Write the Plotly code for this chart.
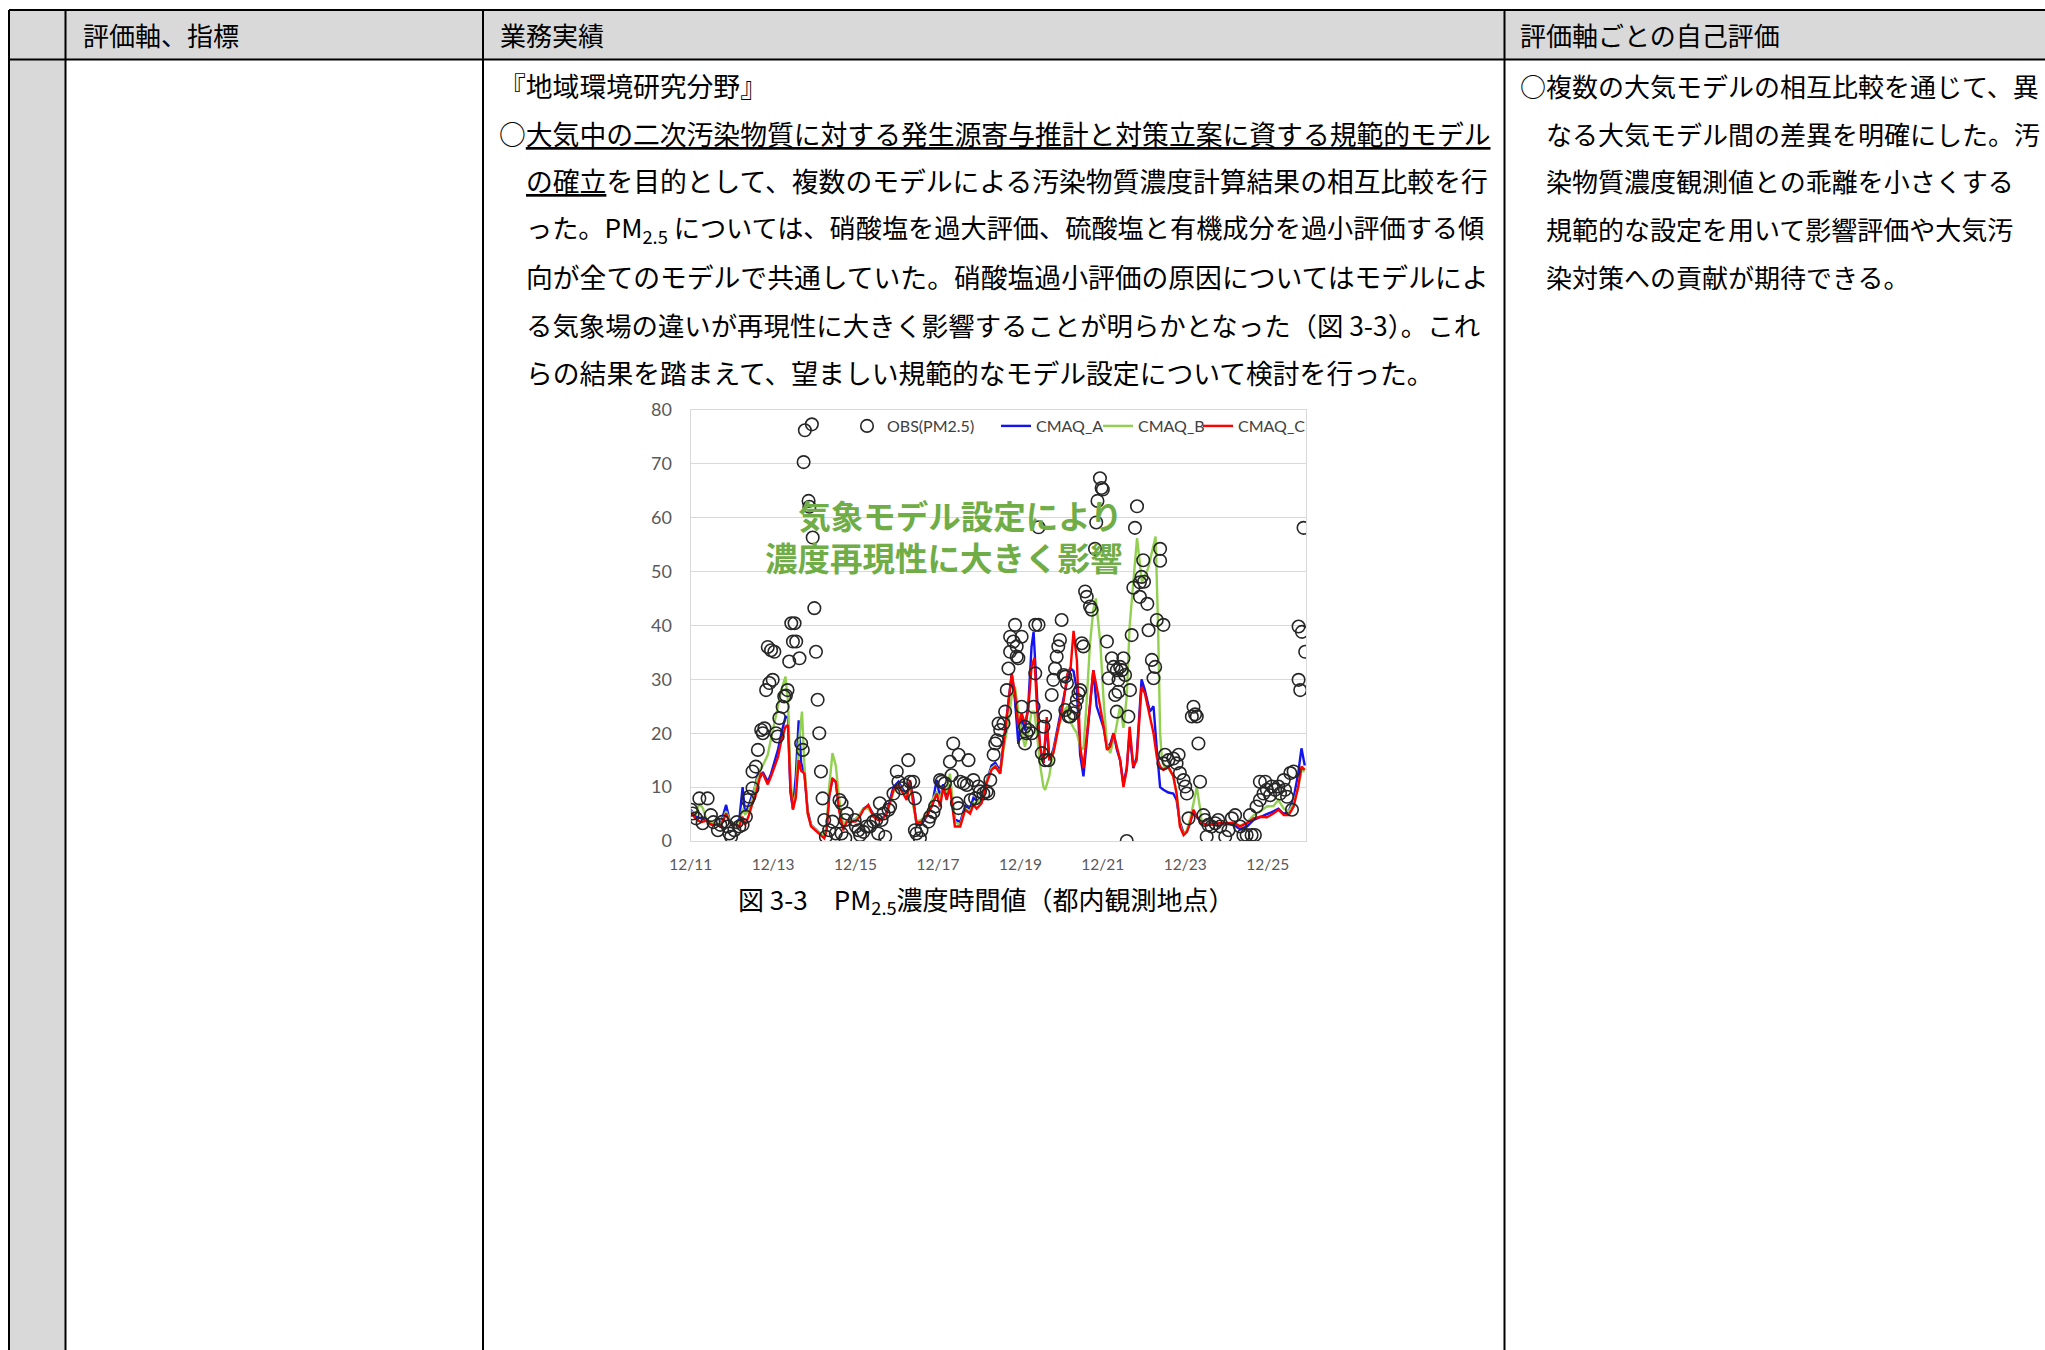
import plotly.graph_objects as go

W, H = 2045, 1350

# ---------------- data (days since 12/11 00:00) ----------------
tick_days = [0, 2, 4, 6, 8, 10, 12, 14]
tick_labels = ["12/11", "12/13", "12/15", "12/17", "12/19", "12/21", "12/23", "12/25"]
y_ticks = [0, 10, 20, 30, 40, 50, 60, 70, 80]

cmaq_c_t = [0.00,0.13,0.25,0.38,0.50,0.62,0.72,0.86,0.95,1.05,1.18,1.25,1.32,1.40,1.50,1.56,1.63,1.70,1.75,1.87,1.95,2.03,2.12,2.20,2.30,2.36,2.42,2.48,2.55,2.62,2.68,2.76,2.84,2.92,3.05,3.12,3.24,3.30,3.36,3.44,3.52,3.60,3.70,3.79,4.00,4.10,4.19,4.31,4.43,4.55,4.64,4.76,4.92,5.04,5.16,5.24,5.32,5.40,5.48,5.60,5.72,5.85,5.97,6.05,6.13,6.21,6.29,6.41,6.54,6.66,6.78,6.86,6.94,7.06,7.18,7.30,7.39,7.51,7.59,7.71,7.79,7.87,7.95,8.03,8.11,8.19,8.27,8.34,8.40,8.48,8.56,8.64,8.70,8.80,8.93,9.05,9.14,9.22,9.29,9.37,9.45,9.53,9.65,9.77,9.85,9.94,10.02,10.10,10.18,10.26,10.34,10.42,10.50,10.58,10.65,10.74,10.82,10.94,11.02,11.14,11.23,11.31,11.39,11.47,11.59,11.71,11.79,11.87,11.96,12.04,12.12,12.20,12.28,12.40,12.56,12.77,12.97,13.17,13.33,13.50,13.66,13.82,13.98,14.14,14.26,14.39,14.51,14.63,14.74,14.82,14.90]
cmaq_c_v = [5.4,4.0,3.5,3.8,3.0,3.0,2.7,5.1,3.3,3.0,2.7,4.5,3.0,4.5,7.0,8.0,10.0,12.5,12.5,10.5,12.0,13.8,15.6,18.7,21.2,21.5,10.0,5.8,8.0,15.0,13.0,12.5,5.1,2.7,1.8,1.4,0.5,2.0,8.2,11.6,11.0,5.7,2.0,3.6,3.6,4.5,5.8,6.7,4.5,3.9,3.9,5.1,9.5,10.4,8.8,7.6,11.3,7.0,3.3,3.6,4.5,6.4,8.8,6.4,10.0,7.6,10.0,2.7,2.7,5.8,5.1,6.7,6.0,7.0,10.7,13.2,13.8,12.5,17.5,25.5,31.0,27.4,21.2,23.7,21.8,24.3,32.3,34.0,25.0,17.5,14.5,23.0,15.0,16.3,21.2,26.0,31.0,32.3,39.0,33.6,17.5,13.5,22.4,31.7,28.6,25.0,21.2,16.9,17.5,20.0,17.5,15.0,10.0,13.2,21.2,13.8,15.0,28.6,27.4,23.0,20.0,15.6,13.8,13.2,13.8,12.0,8.8,2.7,1.1,1.7,3.3,5.8,4.5,3.3,3.0,3.3,3.3,3.3,2.7,3.3,4.2,4.5,4.4,5.1,5.8,4.8,4.8,6.4,10.0,13.8,13.2]

cmaq_a_t = [0.00,0.13,0.25,0.38,0.50,0.62,0.72,0.86,0.95,1.05,1.18,1.26,1.32,1.40,1.50,1.56,1.63,1.70,1.75,1.87,1.95,2.03,2.12,2.20,2.30,2.36,2.42,2.48,2.55,2.62,2.68,2.76,2.84,2.92,3.05,3.12,3.24,3.30,3.36,3.44,3.52,3.60,3.70,3.79,4.00,4.10,4.19,4.31,4.43,4.55,4.64,4.76,4.92,5.04,5.16,5.24,5.32,5.40,5.48,5.60,5.72,5.85,5.97,6.05,6.13,6.21,6.29,6.41,6.54,6.66,6.78,6.86,6.94,7.06,7.18,7.30,7.39,7.51,7.59,7.71,7.79,7.87,7.95,8.03,8.11,8.19,8.27,8.32,8.40,8.48,8.56,8.64,8.70,8.80,8.93,9.05,9.14,9.22,9.29,9.37,9.45,9.53,9.65,9.77,9.85,9.94,10.02,10.10,10.18,10.26,10.34,10.42,10.50,10.58,10.65,10.74,10.82,10.94,11.02,11.14,11.23,11.31,11.39,11.47,11.59,11.71,11.79,11.87,11.96,12.04,12.12,12.20,12.28,12.40,12.56,12.77,12.97,13.17,13.33,13.50,13.66,13.82,13.98,14.14,14.26,14.39,14.51,14.63,14.74,14.82,14.90]
cmaq_a_v = [5.8,4.5,4.2,4.0,3.3,3.2,3.0,6.7,3.6,3.2,4.0,10.0,5.0,6.5,8.5,10.0,12.5,12.0,12.8,11.0,12.5,14.5,17.0,20.0,23.0,23.0,9.0,6.0,12.0,22.4,14.5,12.5,5.5,3.0,2.0,1.5,0.8,2.5,8.5,11.5,11.0,6.0,2.5,3.8,4.0,4.8,6.0,6.5,5.0,4.2,4.0,5.5,10.0,11.0,9.5,8.5,11.0,8.0,3.0,3.0,4.5,6.5,11.3,8.0,10.5,8.5,10.5,4.0,3.5,6.5,6.0,8.0,7.5,8.0,11.0,14.0,14.5,13.0,18.0,26.0,31.0,26.0,18.0,23.0,20.5,25.0,36.0,38.8,26.0,16.0,14.5,22.0,15.0,17.0,22.0,27.0,30.0,32.0,31.5,28.0,16.0,12.0,22.0,31.7,25.0,23.0,21.0,17.5,18.0,20.0,17.0,15.0,10.5,13.5,20.0,13.5,15.5,30.0,28.0,24.0,25.0,17.0,10.0,9.5,9.0,8.8,7.6,3.5,1.4,1.8,3.5,5.5,4.5,3.3,3.0,3.0,3.2,3.0,2.2,2.7,3.9,4.5,5.0,5.5,6.0,5.0,5.5,8.0,12.5,17.2,14.0]

cmaq_b_t = [0.00,0.13,0.21,0.30,0.38,0.50,0.62,0.72,0.86,0.95,1.05,1.18,1.26,1.32,1.40,1.50,1.56,1.63,1.70,1.75,1.87,1.95,2.03,2.12,2.20,2.30,2.36,2.42,2.48,2.55,2.62,2.70,2.76,2.84,2.92,3.05,3.12,3.24,3.30,3.36,3.44,3.52,3.60,3.70,3.79,4.00,4.10,4.19,4.31,4.43,4.55,4.64,4.76,4.92,5.04,5.16,5.24,5.32,5.40,5.48,5.60,5.72,5.85,5.97,6.05,6.13,6.21,6.29,6.41,6.54,6.66,6.78,6.86,6.94,7.06,7.18,7.30,7.39,7.51,7.59,7.71,7.79,7.87,7.95,8.03,8.11,8.19,8.27,8.34,8.40,8.48,8.56,8.60,8.70,8.76,8.93,9.05,9.14,9.22,9.29,9.37,9.45,9.53,9.60,9.69,9.77,9.83,9.94,10.02,10.10,10.18,10.30,10.42,10.50,10.58,10.65,10.74,10.83,10.95,11.10,11.28,11.34,11.39,11.43,11.50,11.59,11.71,11.79,11.87,11.96,12.04,12.12,12.20,12.28,12.36,12.40,12.56,12.77,12.97,13.17,13.33,13.50,13.66,13.82,13.98,14.14,14.26,14.39,14.51,14.63,14.74,14.82,14.90]
cmaq_b_v = [5.5,5.0,7.0,6.0,4.0,3.5,3.3,3.0,5.5,3.8,3.3,3.5,6.0,5.0,5.5,8.0,10.0,12.0,13.5,14.0,16.0,19.0,22.0,25.0,28.0,30.5,26.0,12.0,6.0,9.0,18.0,24.0,14.0,5.0,3.0,2.0,1.5,0.8,3.0,10.0,16.3,14.0,8.0,3.0,3.8,4.0,5.0,6.0,6.0,4.8,4.0,4.0,5.2,9.0,10.5,9.0,8.0,10.5,6.5,3.5,4.0,5.0,7.5,9.0,8.0,10.0,9.0,12.5,3.5,3.0,6.0,5.5,7.0,7.0,8.0,11.0,13.5,14.0,12.5,17.0,22.0,27.0,28.6,24.0,20.0,17.5,20.0,24.0,24.0,20.0,14.0,10.0,9.5,12.0,15.0,21.2,24.0,25.0,22.0,21.0,20.0,17.5,17.0,25.0,36.7,42.9,45.0,36.7,26.0,18.0,16.3,20.0,25.0,21.0,26.8,39.8,48.4,56.2,48.0,50.6,56.5,40.0,20.0,15.6,13.5,13.5,12.0,9.0,3.0,1.2,2.0,4.0,7.0,10.0,6.0,3.3,3.0,3.3,3.3,3.5,2.8,3.5,4.8,5.5,6.4,6.5,7.6,6.0,5.5,7.0,10.0,13.0,13.0]

obs_t = [0.01,0.05,0.13,0.21,0.29,0.41,0.49,0.55,0.66,0.72,0.78,0.90,0.94,0.98,1.06,1.12,1.18,1.26,1.34,1.38,1.42,1.50,1.50,1.58,1.63,1.71,1.75,1.79,1.83,1.87,1.91,1.95,1.99,2.03,2.07,2.11,2.15,2.23,2.27,2.31,2.35,2.39,2.44,2.48,2.52,2.56,2.64,2.68,2.72,2.74,2.77,2.86,2.88,2.94,2.96,3.00,3.04,3.08,3.12,3.16,3.20,3.24,3.28,3.36,3.44,3.52,3.61,3.66,3.66,3.75,3.75,3.79,3.98,4.01,4.07,4.11,4.19,4.27,4.35,4.43,4.50,4.55,4.59,4.63,4.68,4.72,4.80,4.84,4.92,5.00,5.04,5.12,5.20,5.28,5.32,5.40,5.44,5.44,5.48,5.56,5.60,5.77,5.81,5.89,5.93,6.05,6.09,6.17,6.29,6.33,6.37,6.46,6.50,6.50,6.54,6.63,6.70,6.74,6.79,6.86,6.90,6.98,7.02,7.10,7.18,7.22,7.27,7.35,7.39,7.43,7.47,7.51,7.59,7.63,7.67,7.71,7.75,7.75,7.83,7.87,7.91,7.91,7.95,8.03,8.03,8.11,8.11,8.15,8.20,8.28,8.32,8.36,8.36,8.44,8.44,8.52,8.56,8.60,8.60,8.68,8.76,8.80,8.84,8.88,8.92,8.96,9.00,9.05,9.09,9.09,9.13,9.17,9.21,9.29,9.33,9.37,9.41,9.45,9.49,9.53,9.57,9.61,9.69,9.73,9.81,9.84,9.87,9.93,9.97,10.00,10.10,10.14,10.22,10.26,10.30,10.34,10.34,10.38,10.38,10.42,10.46,10.50,10.54,10.58,10.62,10.66,10.70,10.74,10.78,10.83,10.90,10.90,10.94,10.98,11.00,11.08,11.11,11.19,11.23,11.27,11.31,11.39,11.39,11.47,11.47,11.51,11.59,11.71,11.79,11.84,11.87,11.96,12.00,12.04,12.08,12.16,12.20,12.24,12.28,12.32,12.36,12.44,12.48,12.52,12.56,12.64,12.73,12.80,12.85,12.97,13.05,13.13,13.21,13.33,13.41,13.49,13.57,13.61,13.69,13.73,13.81,13.81,13.90,13.94,13.98,14.06,14.10,14.18,14.26,14.30,14.39,14.42,14.47,14.55,14.59,14.63,14.75,14.75,14.79,14.83,14.87,14.91]
obs_v = [5.8,5.1,4.2,7.9,3.3,7.9,4.8,3.5,2.0,3.0,3.6,2.7,1.4,0.8,2.0,3.5,2.7,3.0,4.5,7.6,8.2,9.8,12.9,13.8,16.9,20.6,20.0,20.9,28.0,36.0,29.3,35.4,29.9,35.1,20.0,19.4,22.8,24.9,26.8,27.0,28.0,33.3,40.4,37.0,40.4,37.0,33.9,18.1,16.9,70.3,76.2,63.1,62.0,77.3,56.3,43.2,35.1,26.2,20.0,12.9,7.9,3.9,0.8,2.0,3.6,1.4,7.6,7.0,1.4,3.9,0.5,5.1,3.9,2.7,2.0,1.1,1.7,2.7,2.7,3.6,3.9,1.4,7.0,3.9,5.1,0.8,5.8,6.4,8.8,12.9,11.0,9.8,10.4,15.0,11.0,11.0,7.9,2.0,1.4,0.5,2.0,3.6,4.5,5.4,6.4,11.3,11.0,10.7,14.7,12.2,18.1,7.0,16.0,6.1,11.0,10.7,10.4,15.0,7.6,11.3,7.9,10.1,9.2,8.8,9.2,8.8,11.3,16.0,18.1,18.7,21.8,20.6,21.8,24.0,28.0,32.0,35.1,37.9,37.0,40.1,36.1,34.2,33.9,37.9,24.9,21.2,18.1,20.0,20.6,20.0,24.9,31.1,40.1,40.1,58.2,16.3,21.2,23.1,15.0,15.0,27.1,29.9,32.0,34.2,36.1,37.3,41.0,30.8,30.5,24.3,29.3,23.1,23.1,23.7,24.9,26.2,27.4,28.0,36.7,36.1,46.3,45.3,43.5,42.9,54.2,59.1,63.1,67.3,65.5,65.2,37.0,30.2,33.9,32.3,27.1,31.7,24.0,29.9,27.7,32.3,31.7,33.9,30.8,0.0,23.1,28.0,38.2,47.0,58.1,62.1,45.3,48.0,49.0,52.1,48.1,44.0,39.1,33.6,30.2,32.3,41.0,52.0,54.2,40.1,14.4,16.0,15.0,15.3,14.4,16.0,12.6,11.3,10.1,8.8,4.2,23.1,24.9,23.5,23.1,18.1,11.0,4.8,3.9,0.8,3.0,2.7,3.3,3.9,2.7,0.8,2.0,4.2,4.8,2.7,1.1,1.1,4.8,1.1,1.1,6.4,7.6,11.0,8.8,11.0,9.5,8.5,10.1,9.5,10.1,8.8,11.3,9.5,8.2,12.6,5.8,12.9,39.8,29.9,28.0,38.8,58.1,35.1]

# ---------------- document text ----------------
header_texts = ["評価軸、指標", "業務実績", "評価軸ごとの自己評価"]
middle_lines = [
    "『地域環境研究分野』",
    "○<u>大気中の二次汚染物質に対する発生源寄与推計と対策立案に資する規範的モデル</u>",
    "<u>の確立</u>を目的として、複数のモデルによる汚染物質濃度計算結果の相互比較を行",
    "った。PM<sub>2.5</sub> については、硝酸塩を過大評価、硫酸塩と有機成分を過小評価する傾",
    "向が全てのモデルで共通していた。硝酸塩過小評価の原因についてはモデルによ",
    "る気象場の違いが再現性に大きく影響することが明らかとなった（図 3-3）。これ",
    "らの結果を踏まえて、望ましい規範的なモデル設定について検討を行った。",
]
middle_sizes = [26.8, 26.8, 26.8, 26.2, 26.8, 26.4, 26.8]
right_lines = [
    "○複数の大気モデルの相互比較を通じて、異",
    "なる大気モデル間の差異を明確にした。汚",
    "染物質濃度観測値との乖離を小さくする",
    "規範的な設定を用いて影響評価や大気汚",
    "染対策への貢献が期待できる。",
]
caption = "図 3-3　PM<sub>2.5</sub>濃度時間値（都内観測地点）"
callout = "気象モデル設定により<br>濃度再現性に大きく影響"

JP = "Noto Sans CJK JP"
CH = "Lato, 'Noto Sans CJK JP'"


def px(x):
    return x / W


def py(y):
    return 1 - y / H


fig = go.Figure()

fig.add_trace(go.Scatter(x=cmaq_a_t, y=cmaq_a_v, mode="lines", name="CMAQ_A",
                         line=dict(color="#1414f0", width=2.4), legend="legend2"))
fig.add_trace(go.Scatter(x=cmaq_b_t, y=cmaq_b_v, mode="lines", name="CMAQ_B",
                         line=dict(color="#92d050", width=2.4), legend="legend3"))
fig.add_trace(go.Scatter(x=cmaq_c_t, y=cmaq_c_v, mode="lines", name="CMAQ_C",
                         line=dict(color="#ff0000", width=2.4), legend="legend4"))
fig.add_trace(go.Scatter(x=obs_t, y=obs_v, mode="markers", name="OBS(PM2.5)",
                         marker=dict(symbol="circle-open", size=12.5, color="#262626",
                                     line=dict(width=1.6, color="#262626")),
                         legend="legend"))

shapes = []
LINE = dict(color="black", width=2)
shapes.append(dict(type="rect", xref="paper", yref="paper", x0=px(9), x1=px(2045),
                   y0=py(59.5), y1=py(10), fillcolor="#d9d9d9", line=dict(width=0), layer="below"))
shapes.append(dict(type="rect", xref="paper", yref="paper", x0=px(9), x1=px(65.5),
                   y0=py(1350), y1=py(59.5), fillcolor="#d9d9d9", line=dict(width=0), layer="below"))
for yy in [10, 59.5]:
    shapes.append(dict(type="line", xref="paper", yref="paper", x0=px(9), x1=px(2045),
                       y0=py(yy), y1=py(yy), line=LINE))
for xx in [9, 65.5, 483, 1504.5]:
    shapes.append(dict(type="line", xref="paper", yref="paper", x0=px(xx), x1=px(xx),
                       y0=py(10), y1=py(1350), line=LINE))

annotations = []
for txt, xx in zip(header_texts, [81, 498, 1518]):
    annotations.append(dict(text=txt, x=px(xx), y=py(35), xref="paper", yref="paper",
                            xanchor="left", yanchor="middle", showarrow=False,
                            font=dict(family=JP, size=26, color="black")))

line_y = [85, 133, 181, 229, 277, 325, 373]
for i, txt in enumerate(middle_lines):
    xx = 497 if i < 2 else 524
    annotations.append(dict(text=txt, x=px(xx), y=py(line_y[i]), xref="paper", yref="paper",
                            xanchor="left", yanchor="middle", showarrow=False,
                            font=dict(family=JP, size=middle_sizes[i], color="black")))
for i, txt in enumerate(right_lines):
    xx = 1518 if i == 0 else 1544
    annotations.append(dict(text=txt, x=px(xx), y=py(line_y[i]), xref="paper", yref="paper",
                            xanchor="left", yanchor="middle", showarrow=False,
                            font=dict(family=JP, size=26, color="black")))

annotations.append(dict(text=caption, x=px(986), y=py(900), xref="paper", yref="paper",
                        xanchor="center", yanchor="middle", showarrow=False,
                        font=dict(family=JP, size=26, color="black")))

annotations.append(dict(text=callout, x=px(1125), y=py(535), xref="paper", yref="paper",
                        xanchor="right", yanchor="middle", align="right", showarrow=False,
                        font=dict(family=JP, size=32.5, color="#70ad47", weight="bold")))

LEGFONT = dict(family=CH, size=16, color="#404040")
legend_common = dict(orientation="h", y=py(426), xanchor="left", yanchor="middle",
                     bgcolor="rgba(0,0,0,0)", font=LEGFONT, itemwidth=30)

fig.update_layout(
    width=W, height=H,
    margin=dict(l=0, r=0, t=0, b=0, pad=0, autoexpand=False),
    paper_bgcolor="white", plot_bgcolor="white",
    shapes=shapes, annotations=annotations,
    xaxis=dict(domain=[px(690.7), px(1306)], range=[0, 14.93], automargin=False,
               tickvals=tick_days, ticktext=tick_labels,
               showgrid=False, zeroline=False,
               showline=True, mirror=True, linecolor="#d9d9d9", linewidth=1.3,
               ticks="outside", ticklen=9, tickcolor="rgba(0,0,0,0)",
               tickfont=dict(family=CH, size=15.5, color="#595959")),
    yaxis=dict(domain=[py(841), py(409.8)], range=[0, 80], tickvals=y_ticks, automargin=False,
               showgrid=True, gridcolor="#d9d9d9", gridwidth=1.3, zeroline=False,
               showline=True, mirror=True, linecolor="#d9d9d9", linewidth=1.3,
               ticks="outside", ticklen=14, tickcolor="rgba(0,0,0,0)",
               tickfont=dict(family=CH, size=18, color="#595959")),
    showlegend=True,
    legend=dict(x=px(847), **legend_common),
    legend2=dict(x=px(996), **legend_common),
    legend3=dict(x=px(1098), **legend_common),
    legend4=dict(x=px(1198), **legend_common),
)

fig.write_html("out.html", config={"displayModeBar": False},
               post_script="document.body.style.margin='0';document.body.style.overflow='hidden';")
